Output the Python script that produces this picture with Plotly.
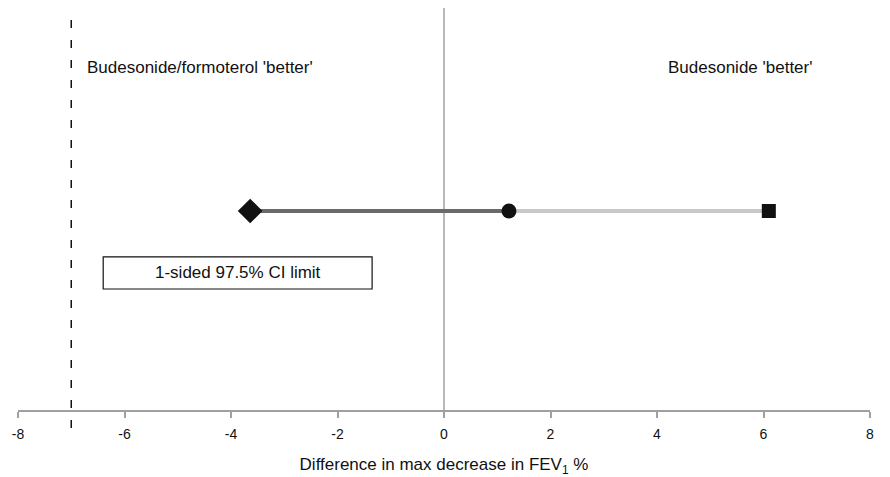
import plotly.graph_objects as go

# Data
ci_lower = -3.64        # lower bound (diamond)
point_est = 1.22        # point estimate (circle)
ci_upper = 6.10         # upper bound (square)
ci_limit = -7.0         # 1-sided 97.5% CI limit (dashed line)
x_ticks = [-8, -6, -4, -2, 0, 2, 4, 6, 8]
row_y = 0.495

FONT = "Liberation Sans, Arial"

fig = go.Figure()

fig.add_trace(go.Scatter(x=[ci_lower, point_est], y=[row_y, row_y], mode="lines",
                         line=dict(color="#6a6a6a", width=4), hoverinfo="skip", showlegend=False))
fig.add_trace(go.Scatter(x=[point_est, ci_upper], y=[row_y, row_y], mode="lines",
                         line=dict(color="#c8c8c8", width=4), hoverinfo="skip", showlegend=False))
fig.add_trace(go.Scatter(x=[ci_lower], y=[row_y], mode="markers",
                         marker=dict(symbol="diamond", size=19, color="#111111"), showlegend=False))
fig.add_trace(go.Scatter(x=[point_est], y=[row_y], mode="markers",
                         marker=dict(symbol="circle", size=15, color="#111111"), showlegend=False))
fig.add_trace(go.Scatter(x=[ci_upper], y=[row_y], mode="markers",
                         marker=dict(symbol="square", size=14, color="#111111"), showlegend=False))

# zero vertical line
fig.add_shape(type="line", xref="x", yref="paper", x0=0, x1=0, y0=0, y1=1,
              line=dict(color="#a0a0a0", width=1.5), layer="below")
# dashed CI limit line
fig.add_shape(type="line", xref="x", yref="paper", x0=ci_limit, x1=ci_limit, y0=-0.045, y1=0.99,
              line=dict(color="#111111", width=1.5, dash="8px,12px"))

# box label
fig.add_shape(type="rect", xref="x", yref="paper", x0=-6.40, x1=-1.35, y0=0.301, y1=0.381,
              line=dict(color="#111111", width=1.2), fillcolor="white")
fig.add_annotation(x=(-6.40 + -1.35) / 2, y=0.341, xref="x", yref="paper",
                   text="1-sided 97.5% CI limit", showarrow=False,
                   font=dict(family=FONT, size=17, color="#111111"))

fig.add_annotation(x=-6.75, y=0.881, xref="x", yref="paper", xanchor="left",
                   text="Budesonide/formoterol 'better'", showarrow=False,
                   font=dict(family=FONT, size=17, color="#111111"))
fig.add_annotation(x=5.55, y=0.881, xref="x", yref="paper", xanchor="center",
                   text="Budesonide 'better'", showarrow=False,
                   font=dict(family=FONT, size=17, color="#111111"))

# The page body has an 8px default margin, so the figure is sized 8px smaller
fig.update_layout(
    width=882, height=469,
    margin=dict(l=10, r=20, t=0, b=67),
    plot_bgcolor="white", paper_bgcolor="white",
    font=dict(family=FONT, color="#111111"),
    xaxis=dict(range=[-8, 8], tickvals=x_ticks, ticktext=[str(v) for v in x_ticks],
               showgrid=False, zeroline=False, showline=True, linecolor="#a0a0a0", linewidth=1.5,
               ticks="outside", tickcolor="#a0a0a0", ticklen=6, tickwidth=1.5,
               ticklabelstandoff=4,
               tickfont=dict(family=FONT, size=14, color="#111111"),
               title=dict(text="Difference in max decrease in FEV<sub>1</sub> %",
                          font=dict(family=FONT, size=17, color="#111111"), standoff=20)),
    yaxis=dict(range=[0, 1], visible=False, showgrid=False, zeroline=False),
)

fig.write_html("out.html")
